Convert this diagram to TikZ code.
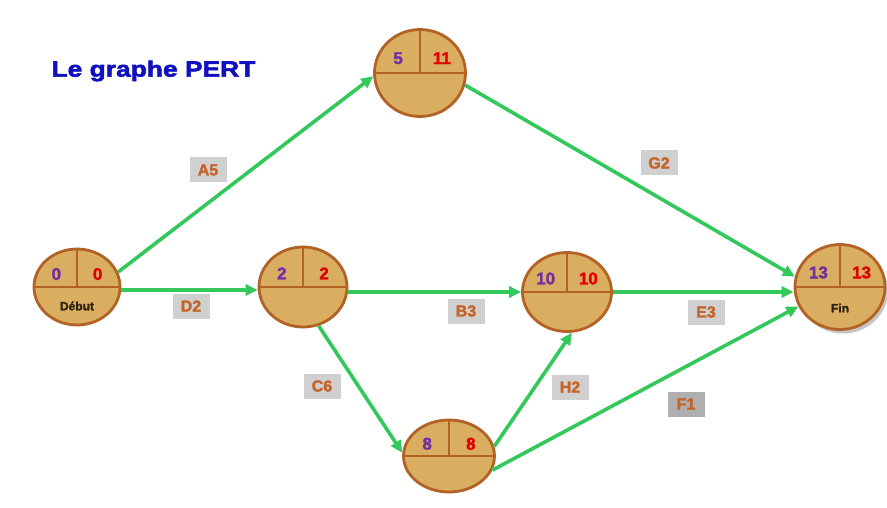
\documentclass[tikz,border=0pt]{standalone}
\usepackage{fontspec}
\setmainfont{Liberation Sans}
\newfontfamily\titlefont[FakeStretch=1.2,FakeBold=2.5]{Liberation Sans Bold}
\newfontfamily\heavyfont[FakeBold=1.8]{Liberation Sans Bold}
\usetikzlibrary{shapes.geometric,arrows.meta,shadows,calc}
\definecolor{pfill}{RGB}{218,174,96}
\definecolor{pborder}{RGB}{178,98,36}
\definecolor{pgreen}{RGB}{50,200,90}
\definecolor{ppurple}{RGB}{112,48,160}
\definecolor{pred}{RGB}{224,0,0}
\definecolor{plabel}{RGB}{196,100,40}
\definecolor{pgray}{RGB}{208,208,208}
\definecolor{ptitle}{RGB}{16,16,192}
\definecolor{pdark}{RGB}{50,35,15}
\tikzset{
  evt/.style={ellipse,draw=pborder,fill=pfill,line width=2.8pt,inner sep=0pt},
  edge/.style={draw=pgreen,line width=3.6pt,-{Triangle[length=12pt,width=11pt]}},
  lab/.style={fill=pgray,text=plabel,font=\heavyfont\fontsize{16}{16}\selectfont,minimum width=37pt,minimum height=25pt,inner sep=0pt},
  lnum/.style={text=ppurple,font=\heavyfont\fontsize{17}{17}\selectfont},
  rnum/.style={text=pred,font=\heavyfont\fontsize{17}{17}\selectfont},
  bname/.style={text=pdark,font=\heavyfont\fontsize{12}{12}\selectfont},
}
\newcommand{\pertevt}[7]{% name, pos, w, h, left, right, options
  \node[evt,minimum width=#3pt,minimum height=#4pt,#7] (#1) at (#2) {};
  \draw[pborder,line width=2.8pt] (#1.west) -- (#1.east);
  \draw[pborder,line width=2.8pt] (#1.north) -- (#1.center);
  \node[lnum] (#1l) at ($(#1.center)+(-0.24*#3,-0.17*#4)$) {#5};
  \node[rnum] (#1r) at ($(#1.center)+(0.24*#3,-0.17*#4)$) {#6};
}
\begin{document}
\begin{tikzpicture}[x=1pt,y=-1pt]
\useasboundingbox[fill=white] (0,0) rectangle (887,508);
\node[text=ptitle,font=\titlefont\fontsize{22}{22}\selectfont,anchor=west] (title) at (48,71) {Le graphe PERT};
\pertevt{n0}{77,287}{86}{76}{0}{0}{}
\node[bname] (n0b) at ($(n0.center)+(0,19)$) {Début};
\pertevt{n5}{420,73}{91}{87}{5}{11}{}
\pertevt{n2}{303,287}{88}{80}{2}{2}{}
\pertevt{n10}{567,292}{89}{79}{10}{10}{}
\pertevt{n8}{449,456}{91}{72}{8}{8}{}
\pertevt{fin}{840,287}{90}{85}{13}{13}{drop shadow={shadow xshift=3pt,shadow yshift=-4pt,opacity=0.45}}
\node[bname] (finb) at ($(fin.center)+(0,21)$) {Fin};
% edges
\draw[edge] (n0.20) -- (n5.184);
\draw[edge] (n0.east |- 0,290) -- (n2.west |- 0,290);
\draw[edge] (n2.east |- 0,292) -- (n10.west);
\draw[edge] (n2.-68) -- (n8.176);
\draw[edge] (n8.12) -- (n10.-83);
\draw[edge] (n8.-18) -- (fin.205);
\draw[edge] (n10.east) -- (n10.east -| fin.west);
\draw[edge] (n5.-15) -- (fin.167);
% labels
\node[lab] (la5) at (208,170) {A5};
\node[lab] (ld2) at (191,306) {D2};
\node[lab] (lb3) at (466,311) {B3};
\node[lab] (lc6) at (322,386) {C6};
\node[lab] (lh2) at (570,387) {H2};
\node[lab] (le3) at (706,312) {E3};
\node[lab] (lg2) at (659,163) {G2};
\node[lab,fill=pgray!80!black!90] (lf1) at (686,404) {F1};
\end{tikzpicture}
\end{document}
